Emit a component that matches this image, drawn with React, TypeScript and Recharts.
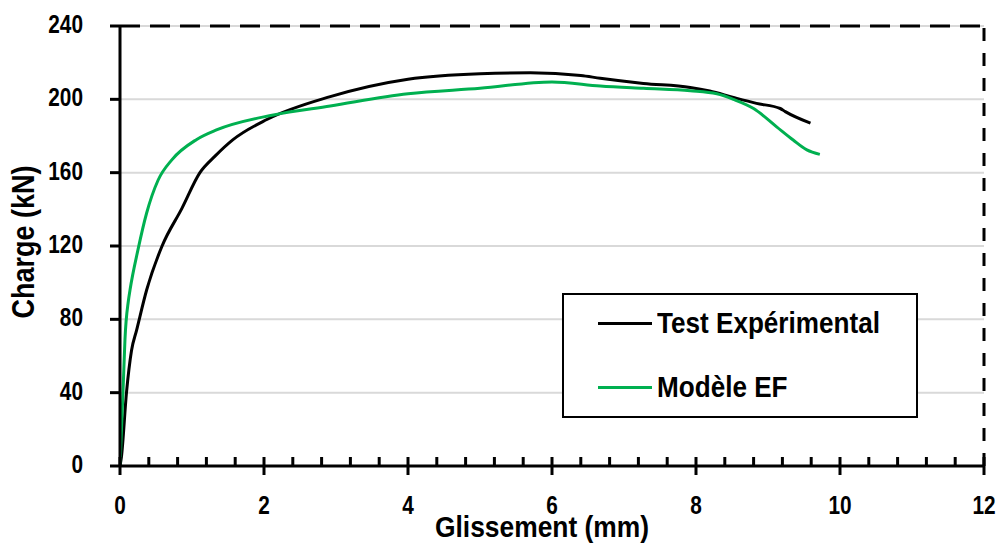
import React from 'react';
import { LineChart, Line, XAxis, YAxis, CartesianGrid, ReferenceLine, Legend, Label } from 'recharts';

const FONT = "'Liberation Sans', Arial, sans-serif";

const testX = [0, 0.02, 0.09, 0.16, 0.23, 0.37, 0.58, 0.86, 1.11, 1.32, 1.57, 2.04, 2.92, 4.0, 5.0, 5.7, 6.4, 6.67, 7.27, 7.92, 8.19, 8.52, 8.84, 9.17, 9.24, 9.59];
const testY = [0, 5, 40, 63, 74, 96, 119.6, 140.5, 160, 169, 178, 189, 201.5, 211, 214, 214.5, 213, 211.5, 208.7, 206.5, 204.5, 201, 197.8, 195, 193.3, 187];

const modelX = [0, 0.046, 0.069, 0.116, 0.139, 0.25, 0.37, 0.53, 0.72, 1.06, 1.34, 2.13, 2.92, 4.0, 5.0, 6.0, 6.67, 7.27, 7.92, 8.29, 8.52, 8.8, 9.12, 9.35, 9.54, 9.72];
const modelY = [0, 45, 69, 90, 96, 118, 138, 156, 167, 178, 183.3, 191.5, 196.4, 203, 206, 209.5, 207.3, 206, 204.7, 203, 200, 195, 185, 177.8, 172.4, 170];

const xMajorTicks = [0, 2, 4, 6, 8, 10, 12];
const xAllTicks = [0, 0.4, 0.8, 1.2, 1.6, 2, 2.4, 2.8, 3.2, 3.6, 4, 4.4, 4.8, 5.2, 5.6, 6, 6.4, 6.8, 7.2, 7.6, 8, 8.4, 8.8, 9.2, 9.6, 10, 10.4, 10.8, 11.2, 11.6, 12];
const yTicks = [0, 40, 80, 120, 160, 200, 240];

const seriesNames = ['Test Expérimental', 'Modèle EF'];
const seriesColors = ['#000000', '#00b050'];
const xTitle = 'Glissement (mm)';
const yTitle = 'Charge (kN)';

const testData = testX.map((x, i) => ({ x, y: testY[i] }));
const modelData = modelX.map((x, i) => ({ x, y: modelY[i] }));

const XTick = (props: any) => {
  const { x, y, payload } = props;
  const isMajor = xMajorTicks.includes(payload.value);
  return (
    <g>
      <line x1={x} x2={x} y1={y - 9} y2={isMajor ? y + 9 : y} stroke="#000" strokeWidth={3} />
      {isMajor && (
        <text
          transform={`translate(${x} ${y + 48}) scale(0.8 1)`}
          x={0}
          y={0}
          textAnchor="middle"
          fill="#000"
          fontSize={26}
          fontWeight="bold"
          fontFamily={FONT}
        >
          {payload.value}
        </text>
      )}
    </g>
  );
};

const YTick = (props: any) => {
  const { x, y, payload } = props;
  return (
    <text
      transform={`translate(${x} ${y + 7}) scale(0.8 1)`}
      x={0}
      y={0}
      textAnchor="end"
      fill="#000"
      fontSize={26}
      fontWeight="bold"
      fontFamily={FONT}
    >
      {payload.value}
    </text>
  );
};

const LegendBox = () => (
  <div
    style={{
      width: 356,
      height: 125,
      boxSizing: 'border-box',
      border: '2px solid #000',
      background: '#fff',
      position: 'relative',
      fontFamily: FONT,
      fontWeight: 'bold',
      fontSize: 30,
      color: '#000',
    }}
  >
    {seriesNames.map((name, i) => (
      <div
        key={name}
        style={{ position: 'absolute', left: 34, top: (i === 0 ? 30 : 94) - 2 - 20, height: 40, display: 'flex', alignItems: 'center', whiteSpace: 'nowrap' }}
      >
        <div style={{ width: 54, height: 3, background: seriesColors[i], marginRight: 5, flex: 'none' }} />
        <span style={{ lineHeight: '40px', display: 'inline-block', transform: 'scaleX(0.87)', transformOrigin: 'left center' }}>{name}</span>
      </div>
    ))}
  </div>
);

export default function App() {
  return (
    <div style={{ position: 'absolute', left: 0, top: 0, width: 1000, height: 544, background: '#fff' }}>
      <LineChart width={1000} height={544} margin={{ top: 26, right: 16, bottom: 0, left: 0 }}>
        <CartesianGrid horizontal vertical={false} stroke="#d9d9d9" strokeWidth={2} />
        <XAxis
          type="number"
          dataKey="x"
          domain={[0, 12]}
          ticks={xAllTicks}
          interval={0}
          height={78}
          tickSize={0}
          tickMargin={0}
          tickLine={false}
          axisLine={{ stroke: '#000', strokeWidth: 3 }}
          tick={<XTick />}
          allowDataOverflow
        >
          <Label
            content={(p: any) => {
              const vb = p.viewBox;
              const cx = vb.x + vb.width / 2;
              return (
                <text
                  transform={`translate(${cx - 10} 537) scale(0.88 1)`}
                  x={0}
                  y={0}
                  textAnchor="middle"
                  fill="#000"
                  fontSize={30}
                  fontWeight="bold"
                  fontFamily={FONT}
                >
                  {xTitle}
                </text>
              );
            }}
          />
        </XAxis>
        <YAxis
          type="number"
          domain={[0, 240]}
          ticks={yTicks}
          interval={0}
          width={120}
          tickSize={10}
          tickMargin={27}
          tickLine={{ stroke: '#000', strokeWidth: 3 }}
          axisLine={{ stroke: '#000', strokeWidth: 3 }}
          tick={<YTick />}
        >
          <Label
            content={(p: any) => {
              const vb = p.viewBox;
              const cy = vb.y + vb.height / 2;
              return (
                <text
                  transform={`translate(34 ${cy - 4}) rotate(-90) scale(0.87 1)`}
                  x={0}
                  y={0}
                  textAnchor="middle"
                  fill="#000"
                  fontSize={31}
                  fontWeight="bold"
                  fontFamily={FONT}
                >
                  {yTitle}
                </text>
              );
            }}
          />
        </YAxis>
        <ReferenceLine y={240} stroke="#000" strokeWidth={3} strokeDasharray="20 10" />
        <ReferenceLine x={12} stroke="#000" strokeWidth={3} strokeDasharray="13 12" />
        <Line data={testData} dataKey="y" type="monotone" stroke={seriesColors[0]} strokeWidth={3} dot={false} isAnimationActive={false} name={seriesNames[0]} />
        <Line data={modelData} dataKey="y" type="monotone" stroke={seriesColors[1]} strokeWidth={3} dot={false} isAnimationActive={false} name={seriesNames[1]} />
        <Legend
          layout="horizontal"
          verticalAlign="middle"
          align="center"
          content={() => <LegendBox />}
          wrapperStyle={{ position: 'absolute', left: 562, top: 293, width: 356, height: 125 }}
        />
      </LineChart>
    </div>
  );
}
